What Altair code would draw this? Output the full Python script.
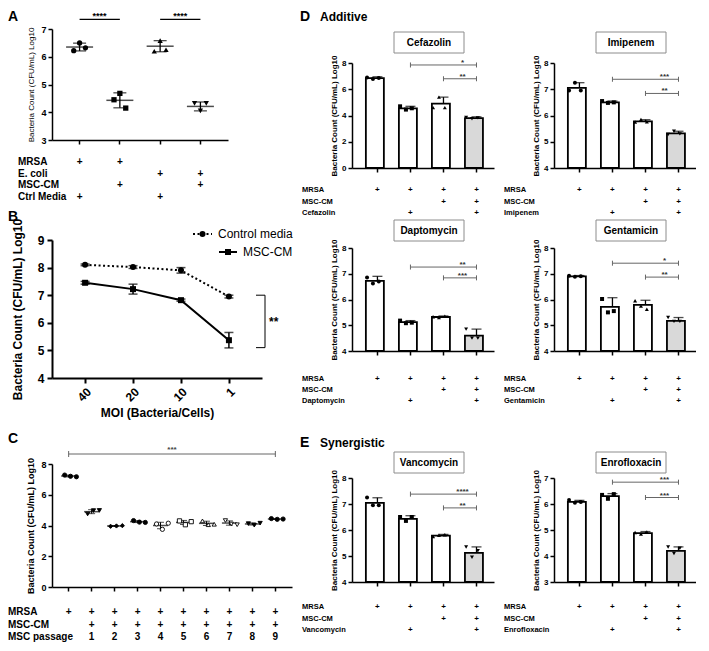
import altair as alt
import pandas as pd

FONT = "Liberation Sans"
YTITLE = "Bacteria Count (CFU/mL) Log10"

# ---------------- Panel A ----------------
A_groups = ["MRSA + Ctrl", "MRSA + MSC-CM", "E. coli + Ctrl", "E. coli + MSC-CM"]
A_points = [[6.22, 6.50, 6.32], [4.45, 4.68, 4.15], [6.20, 6.58, 6.25], [4.32, 4.05, 4.32]]
A_mean = [6.35, 4.43, 6.38, 4.21]
A_sd = [0.14, 0.27, 0.20, 0.16]
A_rows = ["MRSA", "E. coli", "MSC-CM", "Ctrl Media"]
A_table = [["+", "+", "", ""], ["", "", "+", "+"], ["", "+", "", "+"], ["+", "", "+", ""]]
A_sig = [(0, 1, 7.35, "****"), (2, 3, 7.35, "****")]

# ---------------- Panel B ----------------
B_moi = ["40", "20", "10", "1"]
B_series = ["Control media", "MSC-CM"]
B_ctrl_mean = [8.10, 8.02, 7.90, 6.95]
B_ctrl_sd = [0.03, 0.05, 0.10, 0.05]
B_msc_mean = [7.45, 7.22, 6.82, 5.37]
B_msc_sd = [0.05, 0.18, 0.04, 0.28]
B_bracket = [7.0, 5.1]
B_bracket_label = "**"

# ---------------- Panel C ----------------
C_groups = ["MRSA", "P1", "P2", "P3", "P4", "P5", "P6", "P7", "P8", "P9"]
C_points = [[7.28, 7.20, 7.17], [4.75, 4.97, 4.98], [3.95, 3.97, 3.99], [4.32, 4.22, 4.20],
            [4.10, 3.75, 4.15], [4.30, 4.05, 4.25], [4.30, 4.05, 4.08], [4.32, 4.10, 4.05],
            [4.12, 4.02, 4.15], [4.45, 4.40, 4.42]]
C_mean = [7.22, 4.90, 3.97, 4.25, 4.00, 4.20, 4.14, 4.16, 4.10, 4.42]
C_sd = [0.06, 0.13, 0.03, 0.06, 0.21, 0.13, 0.14, 0.14, 0.07, 0.03]
C_rows = ["MRSA", "MSC-CM", "MSC passage"]
C_table = [["+"] * 10, [""] + ["+"] * 9, [""] + ["1", "2", "3", "4", "5", "6", "7", "8", "9"]]
C_sig = [(0, 9, 8.65, "***")]

# ---------------- Panels D / E (bar charts) ----------------
D_groups = ["MRSA", "MRSA + drug", "MRSA + MSC-CM", "MRSA + MSC-CM + drug"]
D_table = [["+", "+", "+", "+"], ["", "", "+", "+"], ["", "+", "", "+"]]

CEF_mean = [6.85, 4.55, 4.90, 3.80]
CEF_sd = [0.10, 0.15, 0.50, 0.10]
CEF_points = [[6.90, 6.78, 6.85], [4.70, 4.45, 4.55], [4.60, 5.40, 4.60], [3.85, 3.75, 3.82]]
CEF_sig = [(1, 3, 7.85, "*"), (2, 3, 6.80, "**")]

IMI_mean = [7.05, 6.50, 5.78, 5.32]
IMI_sd = [0.20, 0.05, 0.06, 0.08]
IMI_points = [[6.95, 7.25, 6.95], [6.55, 6.48, 6.50], [5.75, 5.85, 5.76], [5.28, 5.40, 5.30]]
IMI_sig = [(1, 3, 7.38, "***"), (2, 3, 6.84, "**")]

DAP_mean = [6.72, 5.12, 5.32, 4.60]
DAP_sd = [0.18, 0.06, 0.04, 0.25]
DAP_points = [[6.85, 6.62, 6.70], [5.18, 5.08, 5.10], [5.33, 5.30, 5.35], [4.85, 4.50, 4.50]]
DAP_sig = [(1, 3, 7.26, "**"), (2, 3, 6.84, "***")]

GEN_mean = [6.90, 5.71, 5.79, 5.17]
GEN_sd = [0.03, 0.36, 0.18, 0.13]
GEN_points = [[6.92, 6.88, 6.90], [6.02, 5.50, 5.55], [5.95, 5.75, 5.62], [5.30, 5.15, 5.15]]
GEN_sig = [(1, 3, 7.41, "*"), (2, 3, 6.87, "**")]

VAN_mean = [7.04, 6.43, 5.78, 5.12]
VAN_sd = [0.20, 0.12, 0.05, 0.23]
VAN_points = [[7.25, 6.95, 6.95], [6.50, 6.35, 6.50], [5.75, 5.80, 5.82], [5.35, 4.95, 5.20]]
VAN_sig = [(1, 3, 7.38, "****"), (2, 3, 6.85, "**")]

ENR_mean = [6.08, 6.30, 4.88, 4.20]
ENR_sd = [0.06, 0.10, 0.06, 0.15]
ENR_points = [[6.15, 6.05, 6.08], [6.35, 6.20, 6.38], [4.90, 4.85, 4.92], [4.35, 4.10, 4.30]]
ENR_sig = [(1, 3, 6.84, "***"), (2, 3, 6.25, "***")]

# ---------------- styles ----------------
BAR_FILLS = ["white", "white", "white", "#d9d9d9"]
BAR_SHAPES = ["circle", "square", "triangle-up", "triangle-down"]
A_SHAPES = ["circle", "square", "triangle-up", "triangle-down"]
C_SHAPES = ["circle", "triangle-down", "diamond", "circle", "circle", "square",
            "triangle-up", "triangle-down", "triangle-down", "circle"]
C_FILLS = ["black", "black", "black", "black", "white", "white", "white", "white", "black", "black"]


# ---------------- helpers ----------------
def pts_df(cats, pts):
    return pd.DataFrame([{"cat": c, "rep": str(r), "v": v}
                         for c, vals in zip(cats, pts) for r, v in enumerate(vals)])


def stat_df(cats, means, sds):
    return pd.DataFrame({"cat": cats, "mean": means,
                         "lo": [m - s for m, s in zip(means, sds)],
                         "hi": [m + s for m, s in zip(means, sds)]})


def sig_dfs(cats, sigs):
    line = pd.DataFrame([{"sid": i, "cat": cats[k], "yv": y}
                         for i, (a, b, y, t) in enumerate(sigs) for k in (a, b)])
    lab = pd.DataFrame([{"a": cats[a], "b": cats[b], "yv": y, "lab": t} for a, b, y, t in sigs])
    return line, lab


def label(text, x, y, size, weight="bold", align="left", baseline="alphabetic"):
    return alt.Chart(pd.DataFrame({"t": [text]})).mark_text(
        align=align, baseline=baseline, fontSize=size, fontWeight=weight, color="black"
    ).encode(x=alt.value(x), y=alt.value(y), text="t:N")


def table_chart(cats, xenc, rows, vals, y0, y1, lx, lsize, psize):
    ry = alt.Y("row:N", sort=rows,
               scale=alt.Scale(type="point", domain=rows, range=[y0, y1], padding=0), axis=None)
    tdf = pd.DataFrame([{"cat": c, "row": r, "txt": t}
                        for r, vs in zip(rows, vals) for c, t in zip(cats, vs) if t])
    plus = alt.Chart(tdf).mark_text(fontSize=psize, fontWeight="bold", baseline="middle",
                                    color="black").encode(x=xenc, y=ry, text="txt:N")
    lab = alt.Chart(pd.DataFrame({"row": rows})).mark_text(
        align="left", baseline="middle", fontSize=lsize, fontWeight="bold", color="black"
    ).encode(x=alt.value(lx), y=ry, text="row:N")
    return alt.layer(plus, lab)


# ---------------- Panel A ----------------
def panel_a():
    cats = A_groups
    xs = alt.Scale(domain=cats, paddingInner=0.65, paddingOuter=0.51)
    xa = alt.Axis(labels=False, title=None, tickSize=4, tickWidth=1.5, domainWidth=1.5)
    X = lambda f: alt.X(f + ":N", sort=cats, scale=xs, axis=xa)
    ys = alt.Scale(domain=[3, 7], nice=False, zero=False)
    ya = alt.Axis(values=[3, 4, 5, 6, 7], title=YTITLE, titleFontSize=8, titleFontWeight="normal",
                  labelFontSize=9, labelFontWeight="bold", tickSize=4, tickWidth=1.5,
                  domainWidth=1.5, titlePadding=5, labelPadding=2)
    Y = lambda f: alt.Y(f + ":Q", scale=ys, axis=ya)
    st = stat_df(cats, A_mean, A_sd)
    sd = alt.Chart(st).mark_rule(color="black", strokeWidth=1.3).encode(x=X("cat"), y=Y("lo"), y2="hi:Q")
    clo = alt.Chart(st).mark_tick(color="black", size=13, thickness=1.3).encode(x=X("cat"), y=Y("lo"))
    chi = alt.Chart(st).mark_tick(color="black", size=13, thickness=1.3).encode(x=X("cat"), y=Y("hi"))
    mn = alt.Chart(st).mark_tick(color="black", size=27, thickness=1.5).encode(x=X("cat"), y=Y("mean"))
    pts = alt.Chart(pts_df(cats, A_points)).mark_point(filled=True, color="black", size=28, opacity=1).encode(
        x=X("cat"), xOffset=alt.XOffset("rep:N", scale=alt.Scale(paddingOuter=0.2)), y=Y("v"),
        shape=alt.Shape("cat:N", scale=alt.Scale(domain=cats, range=A_SHAPES), legend=None))
    sl, sb = sig_dfs(cats, A_sig)
    sline = alt.Chart(sl).mark_line(color="black", strokeWidth=1.2).encode(x=X("cat"), y=Y("yv"), detail="sid:N")
    stxt = alt.Chart(sb).mark_text(fontSize=9, fontWeight="bold", dx=20, baseline="alphabetic",
                                   color="black").encode(x=X("a"), y=Y("yv"), text="lab:N")
    plot = alt.layer(sd, clo, chi, mn, pts, sline, stxt, label("A", -44, -8, 14))
    tab = table_chart(cats, X("cat"), A_rows, A_table, 133, 168, -34, 10, 10)
    return alt.layer(plot, tab).resolve_scale(y="independent").properties(width=176, height=111)


# ---------------- Panel B ----------------
def panel_b():
    xs = alt.Scale(type="point", domain=B_moi, padding=0.69)
    xa = alt.Axis(title="MOI (Bacteria/Cells)", labelAngle=-45, labelFontSize=12, labelFontWeight="bold",
                  titleFontSize=12, titleFontWeight="bold", tickSize=5, tickWidth=2, domainWidth=2,
                  titlePadding=4, labelPadding=3)
    X = lambda f: alt.X(f + ":N", sort=B_moi, scale=xs, axis=xa)
    ys = alt.Scale(domain=[4, 9], nice=False, zero=False)
    ya = alt.Axis(values=[4, 5, 6, 7, 8, 9], title=YTITLE, titleFontSize=12, titleFontWeight="bold",
                  labelFontSize=12, labelFontWeight="bold", tickSize=5, tickWidth=2, domainWidth=2,
                  titlePadding=13, labelPadding=3, labelOverlap=False)
    Y = lambda f: alt.Y(f + ":Q", scale=ys, axis=ya)
    YD = lambda v: alt.YDatum(v, scale=ys, axis=ya)
    df = pd.DataFrame({
        "moi": B_moi * 2,
        "series": [B_series[0]] * 4 + [B_series[1]] * 4,
        "mean": B_ctrl_mean + B_msc_mean,
        "lo": [m - s for m, s in zip(B_ctrl_mean + B_msc_mean, B_ctrl_sd + B_msc_sd)],
        "hi": [m + s for m, s in zip(B_ctrl_mean + B_msc_mean, B_ctrl_sd + B_msc_sd)],
    })
    base = alt.Chart(df)
    l_ctrl = base.transform_filter(alt.datum.series == B_series[0]).mark_line(
        color="black", strokeWidth=2, strokeDash=[2, 2.5]).encode(x=X("moi"), y=Y("mean"))
    l_msc = base.transform_filter(alt.datum.series == B_series[1]).mark_line(
        color="black", strokeWidth=2).encode(x=X("moi"), y=Y("mean"))
    err = base.mark_rule(color="black", strokeWidth=1.5).encode(x=X("moi"), y=Y("lo"), y2="hi:Q")
    clo = base.mark_tick(color="black", size=9, thickness=1.5).encode(x=X("moi"), y=Y("lo"))
    chi = base.mark_tick(color="black", size=9, thickness=1.5).encode(x=X("moi"), y=Y("hi"))
    pts = base.mark_point(filled=True, color="black", size=36, opacity=1).encode(
        x=X("moi"), y=Y("mean"),
        shape=alt.Shape("series:N", scale=alt.Scale(domain=B_series, range=["circle", "square"]), legend=None))
    one = alt.Chart(pd.DataFrame({"k": [0]}))
    br_v = one.mark_rule(color="black", strokeWidth=1).encode(
        x=alt.value(213), y=YD(B_bracket[0]), y2=alt.Y2Datum(B_bracket[1]))
    br_t = one.mark_rule(color="black", strokeWidth=1).encode(
        x=alt.value(204), x2=alt.value(213), y=YD(B_bracket[0]))
    br_b = one.mark_rule(color="black", strokeWidth=1).encode(
        x=alt.value(204), x2=alt.value(213), y=YD(B_bracket[1]))
    br_s = one.mark_text(align="left", baseline="alphabetic", fontSize=12, fontWeight="bold", color="black",
                         text=B_bracket_label).encode(
        x=alt.value(217), y=YD((B_bracket[0] + B_bracket[1]) / 2 - 0.15))
    # legend
    lg1 = one.mark_rule(color="black", strokeWidth=2, strokeDash=[2, 2.5]).encode(
        x=alt.value(141), x2=alt.value(160), y=alt.value(-6))
    lg1p = one.mark_point(shape="circle", filled=True, color="black", size=36, opacity=1).encode(
        x=alt.value(150.5), y=alt.value(-6))
    lg2 = one.mark_rule(color="black", strokeWidth=2).encode(x=alt.value(167), x2=alt.value(185), y=alt.value(12))
    lg2p = one.mark_point(shape="square", filled=True, color="black", size=36, opacity=1).encode(
        x=alt.value(176), y=alt.value(12))
    lt1 = label(B_series[0], 166, -6, 12, weight="normal", baseline="middle")
    lt2 = label(B_series[1], 191, 12, 12, weight="normal", baseline="middle")
    return alt.layer(l_ctrl, l_msc, err, clo, chi, pts, br_v, br_t, br_b, br_s,
                     lg1, lg1p, lg2, lg2p, lt1, lt2, label("B", -44, -19, 14)
                     ).properties(width=210, height=138)


# ---------------- Panel C ----------------
def panel_c():
    cats = C_groups
    H = 137
    xs = alt.Scale(domain=cats, paddingInner=0.55, paddingOuter=0.5)
    xa = alt.Axis(labels=False, title=None, tickSize=4, tickWidth=1.5, domainWidth=1.5)
    X = lambda f: alt.X(f + ":N", sort=cats, scale=xs, axis=xa)
    ys = alt.Scale(domain=[0, 8], nice=False, zero=False, range=[H, 14])
    ya = alt.Axis(values=[0, 2, 4, 6, 8], title=YTITLE, titleFontSize=9, titleFontWeight="bold",
                  labelFontSize=9, labelFontWeight="bold", tickSize=4, tickWidth=1.5, domainWidth=1.5,
                  titlePadding=5, labelPadding=2)
    Y = lambda f: alt.Y(f + ":Q", scale=ys, axis=ya)
    st = stat_df(cats, C_mean, C_sd)
    sd = alt.Chart(st).mark_rule(color="black", strokeWidth=1).encode(x=X("cat"), y=Y("lo"), y2="hi:Q")
    clo = alt.Chart(st).mark_tick(color="black", size=7, thickness=1).encode(x=X("cat"), y=Y("lo"))
    chi = alt.Chart(st).mark_tick(color="black", size=7, thickness=1).encode(x=X("cat"), y=Y("hi"))
    mn = alt.Chart(st).mark_tick(color="black", size=15, thickness=1.5).encode(x=X("cat"), y=Y("mean"))
    pts = alt.Chart(pts_df(cats, C_points)).mark_point(filled=True, stroke="black", strokeWidth=0.9,
                                                         size=18, opacity=1).encode(
        x=X("cat"), xOffset=alt.XOffset("rep:N", scale=alt.Scale(paddingOuter=0.2)), y=Y("v"),
        shape=alt.Shape("cat:N", scale=alt.Scale(domain=cats, range=C_SHAPES), legend=None),
        fill=alt.Fill("cat:N", scale=alt.Scale(domain=cats, range=C_FILLS), legend=None))
    sl, sb = sig_dfs(cats, C_sig)
    sline = alt.Chart(sl).mark_line(color="#666", strokeWidth=1).encode(x=X("cat"), y=Y("yv"), detail="sid:N")
    scap = alt.Chart(sl).mark_rule(color="#666", strokeWidth=1, yOffset=-3, y2Offset=3).encode(
        x=X("cat"), y=Y("yv"), y2="yv:Q")
    mid = pd.DataFrame({"cat": [cats[4]], "yv": [C_sig[0][2]], "lab": [C_sig[0][3]]})
    stxt = alt.Chart(mid).mark_text(fontSize=8, fontWeight="bold", dx=11.5, dy=-2, baseline="alphabetic",
                                    color="#444").encode(x=X("cat"), y=Y("yv"), text="lab:N")
    plot = alt.layer(sd, clo, chi, mn, pts, sline, scap, stxt, label("C", -44, -7, 14))
    tab = table_chart(cats, X("cat"), C_rows, C_table, 162, 187, -44, 10, 10)
    return alt.layer(plot, tab).resolve_scale(y="independent").properties(width=240, height=H)


# ---------------- bar panels ----------------
def bar_panel(name, domain, ticks, means, sds, points, sigs, height, top, box_y, table_y, heading=None):
    cats = D_groups
    xs = alt.Scale(domain=cats, paddingInner=0.3, paddingOuter=0.3, align=0.7)
    xa = alt.Axis(labels=False, title=None, tickSize=4, tickWidth=1.5, domainWidth=1.5)
    X = lambda f: alt.X(f + ":N", sort=cats, scale=xs, axis=xa)
    ys = alt.Scale(domain=domain, range=[height, top], nice=False, zero=False)
    ya = alt.Axis(values=ticks, title=YTITLE, titleFontSize=8, titleFontWeight="bold",
                  labelFontSize=8, labelFontWeight="bold", tickSize=4, tickWidth=1.5, domainWidth=1.5,
                  titlePadding=3, labelPadding=2)
    Y = lambda f: alt.Y(f + ":Q", scale=ys, axis=ya)
    st = stat_df(cats, means, sds)
    bars = alt.Chart(st).mark_bar(stroke="black", strokeWidth=1.8).encode(
        x=X("cat"), y=Y("mean"), y2=alt.Y2Datum(domain[0]),
        fill=alt.Fill("cat:N", scale=alt.Scale(domain=cats, range=BAR_FILLS), legend=None))
    err = alt.Chart(st).mark_rule(color="black", strokeWidth=1.3).encode(x=X("cat"), y=Y("mean"), y2="hi:Q")
    cap = alt.Chart(st).mark_tick(color="black", size=10, thickness=1.3).encode(x=X("cat"), y=Y("hi"))
    pts = alt.Chart(pts_df(cats, points)).mark_point(filled=True, color="black", size=16, opacity=1).encode(
        x=X("cat"), xOffset=alt.XOffset("rep:N", scale=alt.Scale(paddingOuter=1)), y=Y("v"),
        shape=alt.Shape("cat:N", scale=alt.Scale(domain=cats, range=BAR_SHAPES), legend=None))
    sl, sb = sig_dfs(cats, sigs)
    sline = alt.Chart(sl).mark_line(color="#666", strokeWidth=1).encode(x=X("cat"), y=Y("yv"), detail="sid:N")
    scap = alt.Chart(sl).mark_rule(color="#666", strokeWidth=1, yOffset=-2.5, y2Offset=2.5).encode(
        x=X("cat"), y=Y("yv"), y2="yv:Q")
    stxt = alt.Chart(sb).mark_text(fontSize=8, fontWeight="bold", dx=-14, baseline="alphabetic",
                                   color="#333").encode(x=X("b"), y=Y("yv"), text="lab:N")
    box = alt.Chart(pd.DataFrame({"t": [name]})).mark_rect(fill="white", stroke="#8c8c8c", strokeWidth=1).encode(
        x=alt.value(42), x2=alt.value(112), y=alt.value(box_y), y2=alt.value(box_y + 21))
    layers = [bars, err, cap, pts, sline, scap, stxt, box,
              label(name, 77, box_y + 11, 10, align="center", baseline="middle")]
    if heading:
        layers += [label(heading[0], -52, heading[2], 14), label(heading[1], -32, heading[2], 12)]
    plot = alt.layer(*layers)
    tab = table_chart(cats, X("cat"), ["MRSA", "MSC-CM", name], D_table, table_y[0], table_y[1], -50, 7.5, 8)
    return alt.layer(plot, tab).resolve_scale(y="independent").properties(width=142, height=height)


pA = panel_a()
pB = panel_b()
pC = panel_c()
cef = bar_panel("Cefazolin", [0, 8], [0, 2, 4, 6, 8], CEF_mean, CEF_sd, CEF_points, CEF_sig,
                139, 34, 3, (161, 184), heading=("D", "Additive", -8))
imi = bar_panel("Imipenem", [4, 8], [4, 5, 6, 7, 8], IMI_mean, IMI_sd, IMI_points, IMI_sig,
                139, 34, 3, (161, 184))
dap = bar_panel("Daptomycin", [4, 8], [4, 5, 6, 7, 8], DAP_mean, DAP_sd, DAP_points, DAP_sig,
                111, 8, -20, (139, 161))
gen = bar_panel("Gentamicin", [4, 8], [4, 5, 6, 7, 8], GEN_mean, GEN_sd, GEN_points, GEN_sig,
                111, 8, -20, (139, 161))
van = bar_panel("Vancomycin", [4, 8], [4, 5, 6, 7, 8], VAN_mean, VAN_sd, VAN_points, VAN_sig,
                132, 28, 2, (157, 180), heading=("E", "Synergistic", -3))
enr = bar_panel("Enrofloxacin", [3, 7], [3, 4, 5, 6, 7], ENR_mean, ENR_sd, ENR_points, ENR_sig,
                132, 28, 2, (157, 180))

chart = alt.concat(pA, cef, imi, pB, dap, gen, pC, van, enr, columns=3,
                   spacing={"row": 72, "column": 60}, bounds="flush", align="each")
chart = chart.resolve_scale(shape="independent", fill="independent")
chart = chart.configure(font=FONT).configure_view(stroke=None).configure_axis(
    grid=False, domainColor="black", tickColor="black", labelColor="black", titleColor="black",
    labelFont=FONT, titleFont=FONT
).properties(padding={"top": 2, "left": 0, "right": 0, "bottom": 0}, background="white")

chart.save("out.html", embed_options={"renderer": "svg", "actions": False})
